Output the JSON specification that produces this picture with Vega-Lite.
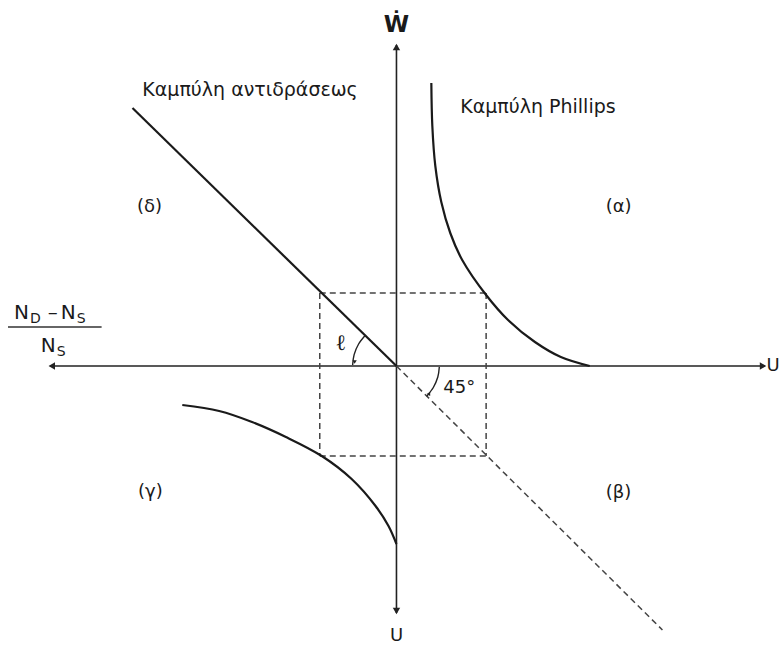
{
  "$schema": "https://vega.github.io/schema/vega-lite/v6.json",
  "width": 780,
  "height": 645,
  "autosize": {"type": "fit", "contains": "padding"},
  "padding": 0,
  "background": "white",
  "config": {"view": {"stroke": null}},
  "datasets": {
    "axes": [
      {"x1": -348, "y1": 0, "x2": 370, "y2": 0},
      {"x1": 0, "y1": 321, "x2": 0, "y2": -247}
    ],
    "dashed": [
      {"x1": -77, "y1": 73, "x2": 90, "y2": 73},
      {"x1": -77, "y1": -90, "x2": 90, "y2": -90},
      {"x1": -77, "y1": 73, "x2": -77, "y2": -90},
      {"x1": 90, "y1": 73, "x2": 90, "y2": -90},
      {"x1": 0, "y1": 0, "x2": 267, "y2": -264}
    ],
    "reaction": [
      {"x1": -265, "y1": 258, "x2": 0, "y2": 0}
    ],
    "curves": [
      {"c": "phillips", "i": 0, "x": 35, "y": 283},
      {"c": "phillips", "i": 1, "x": 36, "y": 240},
      {"c": "phillips", "i": 2, "x": 39, "y": 200},
      {"c": "phillips", "i": 3, "x": 45, "y": 164},
      {"c": "phillips", "i": 4, "x": 54, "y": 133},
      {"c": "phillips", "i": 5, "x": 66, "y": 106},
      {"c": "phillips", "i": 6, "x": 90, "y": 71},
      {"c": "phillips", "i": 7, "x": 112, "y": 46},
      {"c": "phillips", "i": 8, "x": 139, "y": 24},
      {"c": "phillips", "i": 9, "x": 165, "y": 9},
      {"c": "phillips", "i": 10, "x": 194, "y": 0},
      {"c": "gamma", "i": 0, "x": -215, "y": -39},
      {"c": "gamma", "i": 1, "x": -178, "y": -45},
      {"c": "gamma", "i": 2, "x": -145, "y": -56},
      {"c": "gamma", "i": 3, "x": -111, "y": -71},
      {"c": "gamma", "i": 4, "x": -75, "y": -90},
      {"c": "gamma", "i": 5, "x": -45, "y": -113},
      {"c": "gamma", "i": 6, "x": -21, "y": -140},
      {"c": "gamma", "i": 7, "x": -8, "y": -160},
      {"c": "gamma", "i": 8, "x": 0, "y": -178}
    ],
    "arcs": [
      {"c": "l", "i": 0, "x": -31, "y": 31},
      {"c": "l", "i": 1, "x": -38, "y": 22},
      {"c": "l", "i": 2, "x": -42.5, "y": 11.4},
      {"c": "l", "i": 3, "x": -44, "y": 1},
      {"c": "d45", "i": 0, "x": 43, "y": -1},
      {"c": "d45", "i": 1, "x": 41.5, "y": -11},
      {"c": "d45", "i": 2, "x": 37, "y": -21.5},
      {"c": "d45", "i": 3, "x": 30.4, "y": -30.4}
    ],
    "heads": [
      {"x": -346, "y": 0, "shape": "triangle-left"},
      {"x": 368, "y": 0, "shape": "triangle-right"},
      {"x": 0, "y": 319, "shape": "triangle-up"},
      {"x": 0, "y": -245, "shape": "triangle-down"}
    ],
    "small": [
      {"x": -42, "y": 4, "shape": "triangle-down"},
      {"x": 32, "y": -28, "shape": "triangle-left"}
    ],
    "titles": [
      {"x": -147, "y": 276, "t": "Καμπύλη αντιδράσεως"},
      {"x": 142, "y": 259, "t": "Καμπύλη Phillips"}
    ],
    "labels": [
      {"x": -248, "y": 159, "t": "(δ)"},
      {"x": 223, "y": 159, "t": "(α)"},
      {"x": -247, "y": -126, "t": "(γ)"},
      {"x": 223, "y": -127, "t": "(β)"},
      {"x": 378, "y": 0, "t": "U"},
      {"x": 0, "y": -270, "t": "U"},
      {"x": 63, "y": -22, "t": "45°"}
    ],
    "wdot": [
      {"x": 0, "y": 341, "t": "Ẇ"}
    ],
    "ell": [
      {"x": -56, "y": 23, "t": "ℓ"}
    ],
    "bigN": [
      {"x": -384, "y": 47, "t": "N"},
      {"x": -350, "y": 47, "t": "–"},
      {"x": -337, "y": 47, "t": "N"},
      {"x": -357, "y": 14, "t": "N"}
    ],
    "subs": [
      {"x": -368, "y": 43, "t": "D"},
      {"x": -321, "y": 43, "t": "S"},
      {"x": -341, "y": 10, "t": "S"}
    ],
    "frac": [
      {"x1": -390, "y1": 39, "x2": -296, "y2": 39}
    ]
  },
  "layer": [
    {
      "data": {"name": "axes"},
      "mark": {"type": "rule", "color": "#222", "strokeWidth": 1.6},
      "encoding": {
        "x": {"field": "x1", "type": "quantitative", "scale": {"domain": [-398, 382], "nice": false, "zero": false}, "axis": null},
        "y": {"field": "y1", "type": "quantitative", "scale": {"domain": [-279, 366], "nice": false, "zero": false}, "axis": null},
        "x2": {"field": "x2"},
        "y2": {"field": "y2"}
      }
    },
    {
      "data": {"name": "dashed"},
      "mark": {"type": "rule", "color": "#444", "strokeWidth": 1.5, "strokeDash": [6, 4]},
      "encoding": {
        "x": {"field": "x1", "type": "quantitative"},
        "y": {"field": "y1", "type": "quantitative"},
        "x2": {"field": "x2"},
        "y2": {"field": "y2"}
      }
    },
    {
      "data": {"name": "reaction"},
      "mark": {"type": "rule", "color": "#1a1a1a", "strokeWidth": 2.2},
      "encoding": {
        "x": {"field": "x1", "type": "quantitative"},
        "y": {"field": "y1", "type": "quantitative"},
        "x2": {"field": "x2"},
        "y2": {"field": "y2"}
      }
    },
    {
      "data": {"name": "frac"},
      "mark": {"type": "rule", "color": "#333", "strokeWidth": 1.5},
      "encoding": {
        "x": {"field": "x1", "type": "quantitative"},
        "y": {"field": "y1", "type": "quantitative"},
        "x2": {"field": "x2"},
        "y2": {"field": "y2"}
      }
    },
    {
      "data": {"name": "curves"},
      "mark": {"type": "line", "color": "#1a1a1a", "strokeWidth": 2.2, "interpolate": "catmull-rom"},
      "encoding": {
        "x": {"field": "x", "type": "quantitative"},
        "y": {"field": "y", "type": "quantitative"},
        "detail": {"field": "c"},
        "order": {"field": "i", "type": "quantitative"}
      }
    },
    {
      "data": {"name": "arcs"},
      "mark": {"type": "line", "color": "#222", "strokeWidth": 1.4, "interpolate": "cardinal"},
      "encoding": {
        "x": {"field": "x", "type": "quantitative"},
        "y": {"field": "y", "type": "quantitative"},
        "detail": {"field": "c"},
        "order": {"field": "i", "type": "quantitative"}
      }
    },
    {
      "data": {"name": "heads"},
      "mark": {"type": "point", "filled": true, "color": "#222", "size": 55, "opacity": 1},
      "encoding": {
        "x": {"field": "x", "type": "quantitative"},
        "y": {"field": "y", "type": "quantitative"},
        "shape": {"field": "shape", "type": "nominal", "scale": null}
      }
    },
    {
      "data": {"name": "small"},
      "mark": {"type": "point", "filled": true, "color": "#222", "size": 18, "opacity": 1},
      "encoding": {
        "x": {"field": "x", "type": "quantitative"},
        "y": {"field": "y", "type": "quantitative"},
        "shape": {"field": "shape", "type": "nominal", "scale": null}
      }
    },
    {
      "data": {"name": "titles"},
      "mark": {"type": "text", "font": "DejaVu Sans", "fontSize": 19, "color": "#1a1a1a", "align": "center", "baseline": "middle"},
      "encoding": {
        "x": {"field": "x", "type": "quantitative"},
        "y": {"field": "y", "type": "quantitative"},
        "text": {"field": "t"}
      }
    },
    {
      "data": {"name": "labels"},
      "mark": {"type": "text", "font": "DejaVu Sans", "fontSize": 18, "color": "#1a1a1a", "align": "center", "baseline": "middle"},
      "encoding": {
        "x": {"field": "x", "type": "quantitative"},
        "y": {"field": "y", "type": "quantitative"},
        "text": {"field": "t"}
      }
    },
    {
      "data": {"name": "wdot"},
      "mark": {"type": "text", "font": "DejaVu Sans", "fontSize": 23, "fontWeight": "bold", "color": "#1a1a1a", "align": "center", "baseline": "middle"},
      "encoding": {
        "x": {"field": "x", "type": "quantitative"},
        "y": {"field": "y", "type": "quantitative"},
        "text": {"field": "t"}
      }
    },
    {
      "data": {"name": "ell"},
      "mark": {"type": "text", "font": "DejaVu Serif", "fontSize": 22, "color": "#1a1a1a", "align": "center", "baseline": "middle"},
      "encoding": {
        "x": {"field": "x", "type": "quantitative"},
        "y": {"field": "y", "type": "quantitative"},
        "text": {"field": "t"}
      }
    },
    {
      "data": {"name": "bigN"},
      "mark": {"type": "text", "font": "DejaVu Sans", "fontSize": 20, "color": "#1a1a1a", "align": "left", "baseline": "alphabetic"},
      "encoding": {
        "x": {"field": "x", "type": "quantitative"},
        "y": {"field": "y", "type": "quantitative"},
        "text": {"field": "t"}
      }
    },
    {
      "data": {"name": "subs"},
      "mark": {"type": "text", "font": "DejaVu Sans", "fontSize": 14, "color": "#1a1a1a", "align": "left", "baseline": "alphabetic"},
      "encoding": {
        "x": {"field": "x", "type": "quantitative"},
        "y": {"field": "y", "type": "quantitative"},
        "text": {"field": "t"}
      }
    }
  ]
}
